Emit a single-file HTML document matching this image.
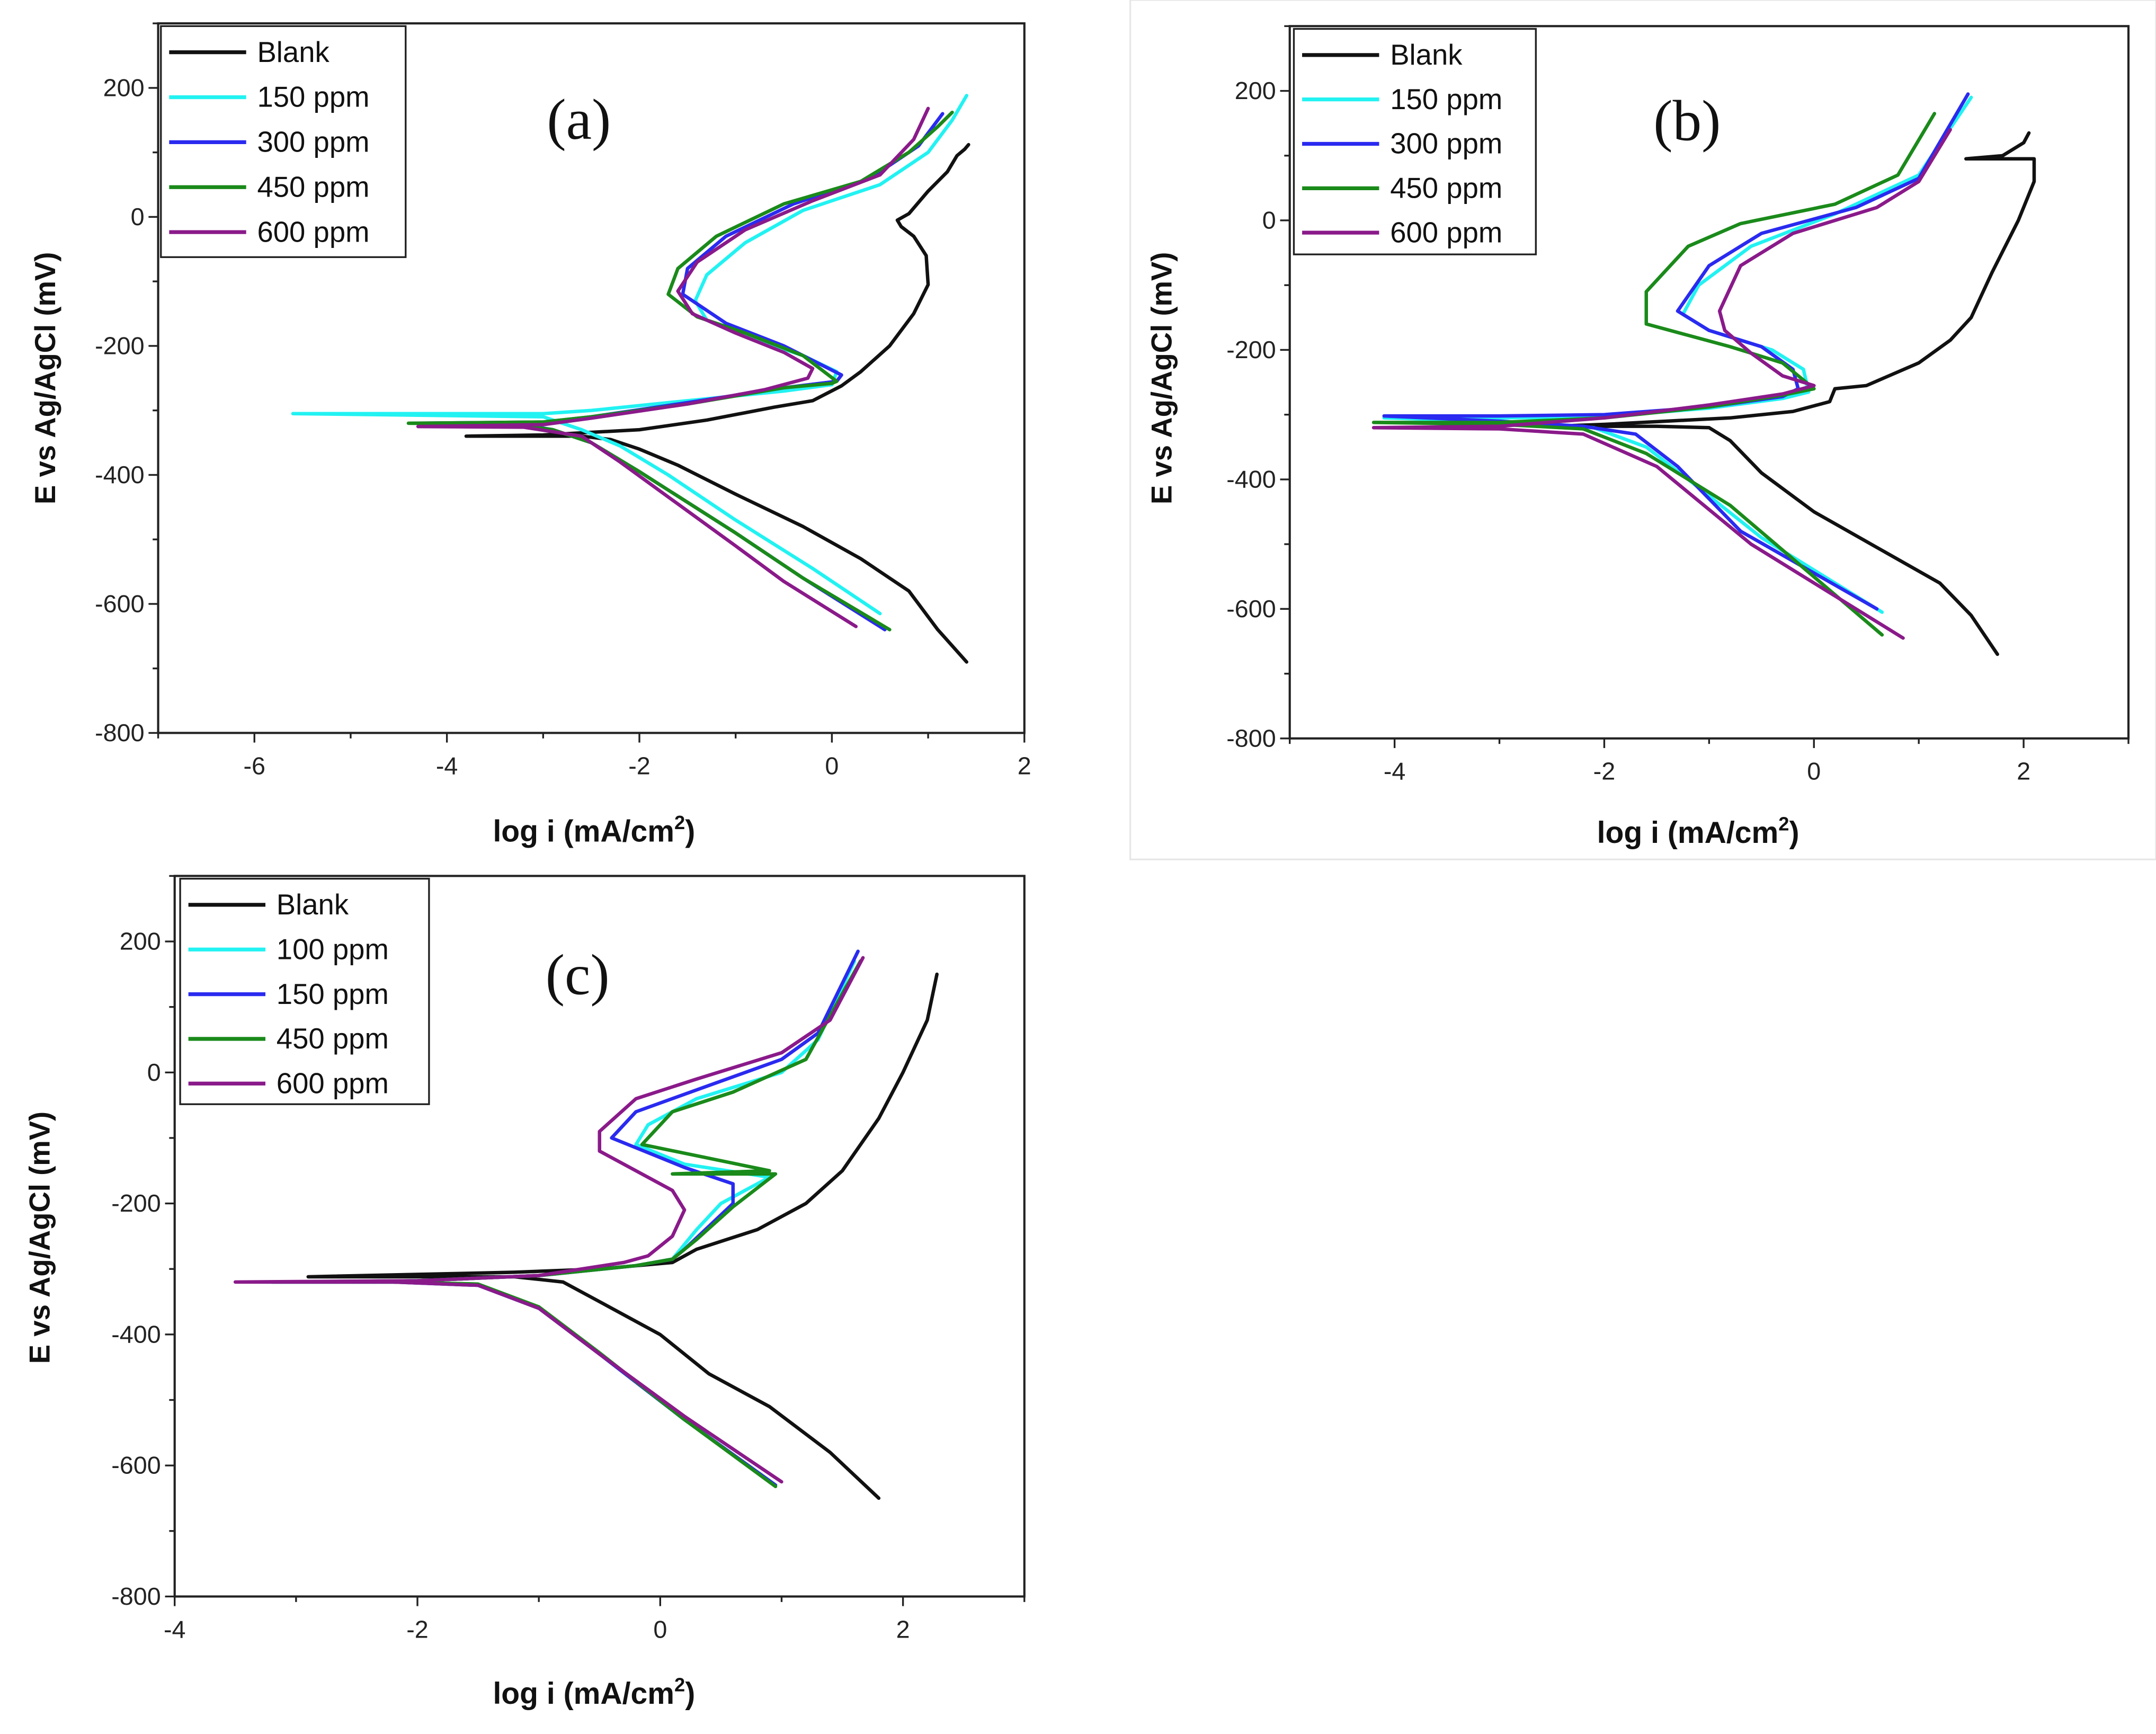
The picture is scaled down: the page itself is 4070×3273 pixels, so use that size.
<!DOCTYPE html>
<html><head><meta charset="utf-8"><style>
html,body{margin:0;padding:0;background:#fff}
svg{display:block}
text{font-family:"Liberation Sans",Arial,sans-serif}
</style></head><body>
<svg id="fig" width="4070" height="3273" viewBox="0 0 1568 1261" xmlns="http://www.w3.org/2000/svg">
<rect x="0" y="0" width="1568" height="1261" fill="#fff"/>
<rect x="822" y="0" width="746" height="625" fill="none" stroke="#e6e6e6" stroke-width="1.2"/>
</svg>
<script>
// ---------- Panel (a) data ----------
const aBlankX=[1.4,1.1,0.8,0.3,-0.3,-1,-1.6,-2,-2.3,-2.6,-3.3,-3.8,-3,-2,-1.3,-0.6,-0.2,0.1,0.3,0.6,0.85,1.0,0.98,0.85,0.72,0.68,0.8,1.0,1.2,1.3,1.38,1.42];
const aBlankY=[-690,-640,-580,-530,-480,-430,-385,-360,-345,-340,-340,-340,-338,-330,-315,-295,-285,-262,-240,-200,-150,-105,-60,-30,-15,-5,5,40,70,95,105,112];
const a150X=[0.5,-0.2,-1,-1.7,-2.2,-2.6,-3,-5.6,-3,-2.5,-1.5,-0.5,0,0.05,-0.3,-0.9,-1.3,-1.42,-1.3,-0.9,-0.3,0.5,1.0,1.25,1.4];
const a150Y=[-615,-545,-470,-400,-355,-330,-310,-305,-305,-300,-285,-270,-260,-240,-215,-185,-160,-130,-90,-40,10,50,100,150,188];
const a300X=[0.55,-0.3,-1,-2,-2.5,-2.9,-3.3,-4.3,-3,-2.5,-1.5,-0.5,0.05,0.1,-0.5,-1.1,-1.55,-1.5,-1.1,-0.4,0.4,0.9,1.15];
const a300Y=[-640,-560,-490,-395,-350,-330,-320,-320,-318,-310,-288,-265,-255,-245,-200,-165,-120,-80,-30,20,60,110,160];
const a450X=[0.6,-0.3,-1,-2,-2.5,-2.9,-3.3,-4.4,-3,-2.5,-1.5,-0.5,0,0.05,-0.3,-0.9,-1.4,-1.7,-1.6,-1.2,-0.5,0.3,0.8,1.1,1.25];
const a450Y=[-640,-560,-490,-395,-350,-330,-322,-320,-318,-310,-290,-265,-258,-255,-215,-180,-155,-120,-80,-30,20,55,100,140,162];
const a600X=[0.25,-0.5,-1,-1.6,-2.2,-2.6,-3.2,-4.3,-3,-2.5,-1.5,-0.7,-0.25,-0.2,-0.5,-1,-1.45,-1.6,-1.4,-0.9,-0.2,0.5,0.85,1.0];
const a600Y=[-635,-565,-510,-445,-380,-340,-326,-325,-322,-312,-290,-268,-250,-235,-210,-180,-150,-115,-70,-20,25,65,120,168];

// ---------- Panel (b) data ----------
const bBlankX=[1.75,1.5,1.2,0.6,0,-0.5,-0.8,-1,-1.5,-2.5,-2,-0.8,-0.2,0.15,0.2,0.5,1,1.3,1.5,1.7,1.95,2.1,2.1,1.45,1.8,2.0,2.05];
const bBlankY=[-670,-610,-560,-505,-450,-390,-340,-320,-318,-318,-315,-305,-295,-280,-260,-255,-220,-185,-150,-80,0,60,95,95,100,120,135];
const b150X=[0.65,-0.5,-1.2,-1.6,-2.1,-3,-4.1,-3,-2,-1,-0.3,-0.05,-0.1,-0.4,-1,-1.25,-1.1,-0.6,0.2,1,1.5];
const b150Y=[-605,-490,-400,-350,-320,-310,-305,-305,-303,-290,-275,-265,-230,-200,-170,-145,-100,-40,10,70,190];
const b300X=[0.6,-0.7,-1.3,-1.7,-2.2,-3,-4.1,-3,-2,-1,-0.3,-0.15,-0.2,-0.5,-1.0,-1.3,-1.0,-0.5,0.4,1.0,1.47];
const b300Y=[-600,-480,-380,-330,-318,-310,-302,-302,-300,-288,-272,-260,-230,-195,-170,-140,-70,-20,20,65,195];
const b450X=[0.65,-0.8,-1.6,-2.2,-3,-4.2,-3,-2,-1,-0.3,0,-0.3,-0.8,-1.6,-1.6,-1.2,-0.7,0.2,0.8,1.15];
const b450Y=[-640,-440,-360,-322,-315,-312,-312,-305,-288,-270,-260,-220,-195,-160,-110,-40,-5,25,70,165];
const b600X=[0.85,-0.6,-1.5,-2.2,-3,-4.2,-3,-2,-1,-0.3,0,-0.3,-0.6,-0.85,-0.9,-0.7,-0.2,0.6,1.0,1.3];
const b600Y=[-645,-500,-380,-330,-322,-320,-318,-305,-285,-268,-255,-240,-205,-170,-140,-70,-20,20,60,140];

// ---------- Panel (c) data ----------
const cBlankX=[1.8,1.4,0.9,0.4,0,-0.5,-0.8,-1.2,-2.9,-1.2,-0.5,0.1,0.3,0.8,1.2,1.5,1.8,2.0,2.2,2.28];
const cBlankY=[-650,-580,-510,-460,-400,-350,-320,-312,-312,-305,-300,-290,-270,-240,-200,-150,-70,0,80,150];
const c100X=[0.95,0.2,-0.5,-1,-1.5,-2.2,-3.3,-2,-1,-0.2,0.1,0.3,0.5,0.9,0.2,-0.2,-0.1,0.3,1.0,1.3,1.6];
const c100Y=[-630,-530,-430,-360,-325,-320,-320,-318,-310,-295,-285,-240,-200,-160,-140,-110,-80,-40,0,50,170];
const c150X=[0.95,0.2,-0.5,-1,-1.5,-2.2,-3.2,-2,-1,-0.2,0.1,0.2,0.6,0.6,0.2,-0.4,-0.2,0.4,1.0,1.3,1.63];
const c150Y=[-630,-530,-430,-360,-325,-320,-320,-318,-310,-295,-285,-270,-200,-170,-145,-100,-60,-20,20,60,185];
const c450X=[0.95,0.2,-0.5,-1,-1.5,-2.2,-3.2,-2,-1,-0.2,0.1,0.3,0.6,0.95,0.1,0.9,-0.15,0.1,0.6,1.2,1.65];
const c450Y=[-632,-530,-428,-358,-323,-320,-320,-318,-310,-295,-285,-255,-205,-155,-155,-150,-110,-60,-30,20,170];
const c600X=[1.0,0.2,-0.5,-1.0,-1.5,-2.2,-3.5,-2,-1,-0.3,-0.1,0.1,0.2,0.1,-0.2,-0.5,-0.5,-0.2,0.3,1.0,1.4,1.67];
const c600Y=[-625,-525,-430,-360,-325,-320,-320,-318,-310,-290,-280,-250,-210,-180,-150,-120,-90,-40,-10,30,80,175];

const xTicksA=[-6,-4,-2,0,2], xTicksB=[-4,-2,0,2], xTicksC=[-4,-2,0,2];
const yTicks=[200,0,-200,-400,-600,-800];
const legendA=["Blank","150 ppm","300 ppm","450 ppm","600 ppm"];
const legendC=["Blank","100 ppm","150 ppm","450 ppm","600 ppm"];
const colors=["#111","#22f2f2","#2a2af0","#1a8a1a","#8a1a8a"];

const NS="http://www.w3.org/2000/svg";
const svg=document.getElementById('fig');
function mk(tag,attrs,parent){const e=document.createElementNS(NS,tag);for(const k in attrs)e.setAttribute(k,attrs[k]);(parent||svg).appendChild(e);return e;}

function panel(id,box,xr,yr,xTicks,series,legend,legBox,tag,tagPos,yLab,xLab){
  const g=mk('g',{});
  
  
  const sx=v=>box.l+(v-xr[0])/(xr[1]-xr[0])*(box.r-box.l);
  const sy=v=>box.b-(v-yr[0])/(yr[1]-yr[0])*(box.b-box.t);
  series.forEach((s,i)=>{
    const pts=s[0].map((x,j)=>sx(x).toFixed(1)+','+sy(s[1][j]).toFixed(1)).join(' ');
    const p=mk('polyline',{points:pts,fill:'none',stroke:colors[i],'stroke-width':2.5,'stroke-linejoin':'round','stroke-linecap':'round'},g);
    
    
  });
  const fr=mk('rect',{x:box.l,y:box.t,width:box.r-box.l,height:box.b-box.t,fill:'none',stroke:'#222','stroke-width':1.6},g);
  
  
  for(let v=Math.ceil(xr[0]);v<=xr[1];v+=1){
    const major=xTicks.includes(v);
    mk('line',{x1:sx(v),x2:sx(v),y1:box.b,y2:box.b+(major?7:4),stroke:'#222','stroke-width':1.3},g);
  }
  xTicks.forEach(v=>{
    const t=mk('text',{x:sx(v),y:box.b+30,'text-anchor':'middle','font-size':18,fill:'#222'},g);
    t.textContent=v;
    
    
  });
  for(let v=-800;v<=300;v+=100){
    const major=yTicks.includes(v);
    mk('line',{x1:box.l,x2:box.l-(major?7:4),y1:sy(v),y2:sy(v),stroke:'#222','stroke-width':1.3},g);
  }
  yTicks.forEach(v=>{
    const t=mk('text',{x:box.l-10,y:sy(v)+6,'text-anchor':'end','font-size':18,fill:'#222'},g);
    t.textContent=v;
    
    
  });
  const lg=mk('rect',{x:legBox.x,y:legBox.y,width:legBox.w,height:legBox.h,fill:'#fff',stroke:'#222','stroke-width':1.3},g);
  
  
  legend.forEach((name,i)=>{
    const yy=legBox.y+19+i*legBox.step;
    mk('line',{x1:legBox.x+6,x2:legBox.x+62,y1:yy,y2:yy,stroke:colors[i],'stroke-width':2.8},g);
    const t=mk('text',{x:legBox.x+70,y:yy+7,'font-size':21,fill:'#111'},g);
    t.textContent=name;
    
    
  });
  const tg=mk('text',{x:tagPos[0],y:tagPos[1],'text-anchor':'middle','font-size':42,fill:'#111',style:'font-family:"Liberation Serif",serif'},g);
  tg.textContent=tag;
  
  
  const yl=mk('text',{x:0,y:0,transform:`translate(${yLab[0]},${yLab[1]}) rotate(-90)`,'text-anchor':'middle','font-size':21,'font-weight':'bold',fill:'#111'},g);
  yl.textContent='E vs Ag/AgCl (mV)';
  
  
  const xl=mk('text',{x:xLab[0],y:xLab[1],'text-anchor':'middle','font-size':22,'font-weight':'bold',fill:'#111'},g);
  xl.innerHTML='log i (mA/cm<tspan font-size="14" dy="-9">2</tspan><tspan dy="9">)</tspan>';
  
  
}

panel('a',{l:115,r:745,t:17,b:533},[-7,2],[-800,300],xTicksA,
  [[aBlankX,aBlankY],[a150X,a150Y],[a300X,a300Y],[a450X,a450Y],[a600X,a600Y]],
  legendA,{x:117,y:19,w:178,h:168,step:32.7},'(a)',[421,101],[40,275],[432,612]);
panel('b',{l:938,r:1548,t:19,b:537},[-5,3],[-800,300],xTicksB,
  [[bBlankX,bBlankY],[b150X,b150Y],[b300X,b300Y],[b450X,b450Y],[b600X,b600Y]],
  legendA,{x:941,y:21,w:176,h:164,step:32.3},'(b)',[1227,102],[852,275],[1235,613]);
panel('c',{l:127,r:745,t:637,b:1161},[-4,3],[-800,300],xTicksC,
  [[cBlankX,cBlankY],[c100X,c100Y],[c150X,c150Y],[c450X,c450Y],[c600X,c600Y]],
  legendC,{x:131,y:639,w:181,h:164,step:32.5},'(c)',[420,723],[36,900],[432,1239]);
</script>
</body></html>
